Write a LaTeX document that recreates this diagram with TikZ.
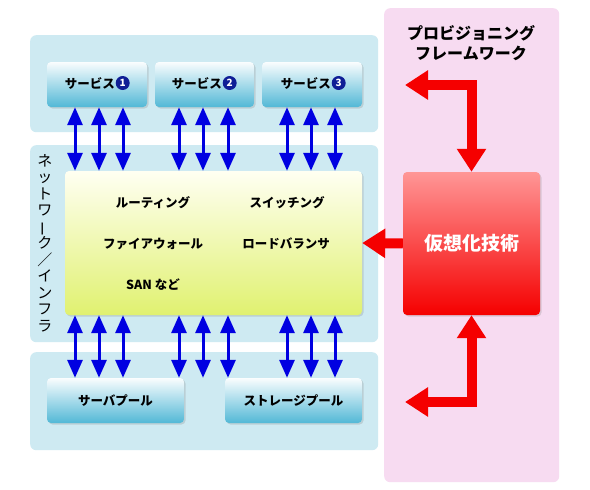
\documentclass[tikz,border=0pt]{standalone}
\usepackage{fontspec}
\usepackage{graphicx}
\setmainfont{Noto Sans CJK JP}
\usetikzlibrary{arrows.meta,shadows}
\definecolor{panelblue}{RGB}{206,234,242}
\definecolor{panelpink}{RGB}{247,219,241}
\definecolor{svctop}{RGB}{250,253,254}
\definecolor{svcmid}{RGB}{135,206,228}
\definecolor{svcbot}{RGB}{82,184,214}
\definecolor{nettop}{RGB}{255,255,242}
\definecolor{netbot}{RGB}{224,241,112}
\definecolor{redtop}{RGB}{255,150,150}
\definecolor{redbot}{RGB}{245,0,0}
\definecolor{arrowred}{RGB}{245,0,0}
\definecolor{arrowblue}{RGB}{0,0,225}
\definecolor{numblue}{RGB}{15,30,150}
\tikzset{
  panel/.style={fill=#1, rounded corners=6pt, inner sep=0pt, anchor=north west},
  svcbox/.style={rounded corners=4pt, inner sep=0pt, top color=svctop, middle color=svcmid, bottom color=svcbot,
     drop shadow={opacity=0.25, shadow xshift=1.5pt, shadow yshift=-1.5pt},
     minimum height=45pt, font=\fontsize{12.5}{14}\selectfont\bfseries},
  netbox/.style={rounded corners=4pt, inner sep=0pt, top color=nettop, bottom color=netbot,
     drop shadow={opacity=0.25, shadow xshift=1.5pt, shadow yshift=-1.5pt}},
  redbox/.style={rounded corners=4pt, inner sep=0pt, top color=redtop, middle color=red, bottom color=redbot,
     drop shadow={opacity=0.25, shadow xshift=1.5pt, shadow yshift=-1.5pt},
     text=white, font=\fontsize{19}{22}\selectfont\bfseries},
  nettext/.style={font=\fontsize{12.5}{14}\selectfont\bfseries, inner sep=0pt},
  numc/.style={circle, fill=numblue, text=white, inner sep=0pt, minimum size=14pt,
     font=\fontsize{10}{10}\selectfont\bfseries},
  bluearrow/.style={draw=arrowblue, line width=3pt,
     {Triangle[length=18pt,width=15pt]}-{Triangle[length=18pt,width=15pt]}},
  redarrow/.style={draw=arrowred, line width=10pt, line join=miter},
  redtip/.tip={Triangle[length=23pt,width=28pt]}
}
\begin{document}
\begin{tikzpicture}[x=1pt,y=-1pt]
\useasboundingbox (0,0) rectangle (590,490);
\fill[white] (0,0) rectangle (590,490);
% panels
\node[panel=panelblue, minimum width=348pt, minimum height=97pt] (ptop) at (30,35) {};
\node[panel=panelblue, minimum width=348pt, minimum height=197pt] (pmid) at (30,145) {};
\node[panel=panelblue, minimum width=348pt, minimum height=98pt] (pbot) at (30,352) {};
\node[panel=panelpink, minimum width=175pt, minimum height=474pt] (ppink) at (384,8) {};
% service boxes
\node[svcbox, minimum width=100pt] (s1) at (97,84.5) {};
\node[svcbox, minimum width=99pt] (s2) at (204.5,84.5) {};
\node[svcbox, minimum width=100pt] (s3) at (312,84.5) {};
\node[nettext, anchor=east] (s1t) at (115,83) {サービス};
\node[numc, anchor=west] (s1n) at ([xshift=0.5pt]s1t.east) {1};
\node[nettext, anchor=east] (s2t) at (222,83) {サービス};
\node[numc, anchor=west] (s2n) at ([xshift=0.5pt]s2t.east) {2};
\node[nettext, anchor=east] (s3t) at (331,83) {サービス};
\node[numc, anchor=west] (s3n) at ([xshift=0.5pt]s3t.east) {3};
% network box
\node[netbox, minimum width=297pt, minimum height=144pt] (net) at (213.5,243) {};
\node[nettext] (rt) at (153,203) {ルーティング};
\node[nettext] (sw) at (287,203) {スイッチング};
\node[nettext] (fw) at (153,244) {ファイアウォール};
\node[nettext] (lb) at (286,244) {ロードバランサ};
\node[nettext] (san) at (153,285) {SAN など};
% pools
\node[svcbox, minimum width=137pt] (sp) at (115.5,400.5) {サーバプール};
\node[svcbox, minimum width=137pt] (st) at (293.5,400.5) {ストレージプール};
% vertical label
\node[font=\fontsize{15}{16.5}\selectfont, align=center, inner sep=0pt] (vt) at (45,243)
  {ネ\\ッ\\ト\\ワ\\\rotatebox[origin=c]{90}{ー}\\ク\\／\\イ\\ン\\フ\\ラ};
% red box
\node[redbox, minimum width=137pt, minimum height=143pt] (red) at (471.5,243.5) {仮想化技術};
\node[font=\fontsize{16}{20}\selectfont\bfseries, align=center, inner sep=0pt] (pf) at (471,43)
  {プロビジョニング\\フレームワーク};
% blue arrows
\foreach \x in {75,99,123}{
  \draw[bluearrow] (\x,0 |- s1.south) -- (\x,0 |- net.north);
  \draw[bluearrow] (\x,0 |- net.south) -- (\x,0 |- sp.north);}
\foreach \x in {179,203,228}{
  \draw[bluearrow] (\x,0 |- s2.south) -- (\x,0 |- net.north);
  \draw[bluearrow] (\x,0 |- net.south) -- (\x,0 |- sp.north);}
\foreach \x in {287,311,335}{
  \draw[bluearrow] (\x,0 |- s3.south) -- (\x,0 |- net.north);
  \draw[bluearrow] (\x,0 |- net.south) -- (\x,0 |- st.north);}
% red arrows
\coordinate (pftop) at (405,85);
\coordinate (pfbot) at (405,402);
\draw[redarrow, {redtip}-{redtip}] (pftop) -| (red.north);
\draw[redarrow, {redtip}-{redtip}] (pfbot) -| (red.south);
\draw[redarrow, -{redtip}] (red.west) -- (net.east);
\end{tikzpicture}
\end{document}
